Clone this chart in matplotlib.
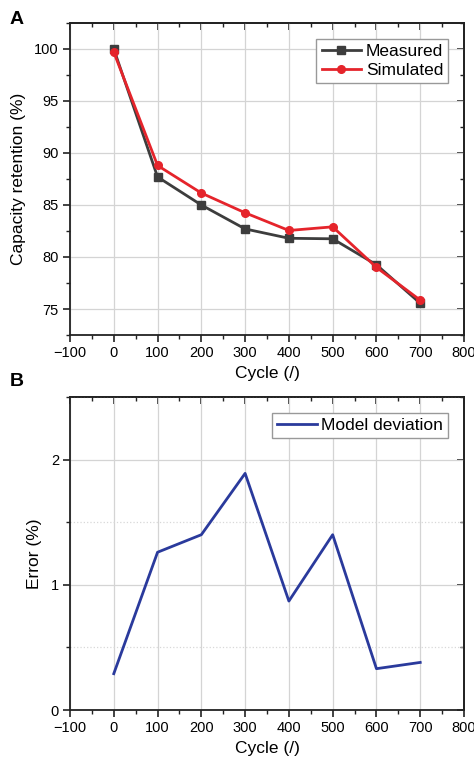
import matplotlib
matplotlib.use("Agg")
import matplotlib.pyplot as plt
from matplotlib.ticker import MultipleLocator

plt.rcParams['font.family'] = ['Liberation Sans', 'DejaVu Sans']

cycles = [0, 100, 200, 300, 400, 500, 600, 700]
measured = [100.0, 87.7, 85.0, 82.7, 81.8, 81.75, 79.25, 75.55]
simulated = [99.7, 88.8, 86.15, 84.25, 82.55, 82.9, 79.0, 75.85]
deviation = [0.29, 1.26, 1.40, 1.89, 0.87, 1.40, 0.33, 0.38]

x_ticks = [-100, 0, 100, 200, 300, 400, 500, 600, 700, 800]
x_ticklabels = ['\u2212100', '0', '100', '200', '300', '400', '500', '600', '700', '800']

W, H = 474, 758
fig = plt.figure(figsize=(W / 100, H / 100), dpi=100)

def box(l, t, r, b):
    return [l / W, 1 - b / H, (r - l) / W, (b - t) / H]

axA = fig.add_axes(box(70, 23, 464, 335))
axB = fig.add_axes(box(70, 397, 464, 710))

def style(ax, ylim, ymajor, yminor, ylabel, minor_grid=False):
    ax.set_xlim(-100, 800)
    ax.set_ylim(*ylim)
    ax.set_xticks(x_ticks)
    ax.set_xticklabels(x_ticklabels)
    ax.xaxis.set_minor_locator(MultipleLocator(50))
    ax.yaxis.set_major_locator(MultipleLocator(ymajor))
    ax.yaxis.set_minor_locator(MultipleLocator(yminor))
    ax.tick_params(which='major', direction='out', length=5, width=1.2,
                   labelsize=10.5, color='#222222', pad=3)
    ax.tick_params(which='minor', direction='out', length=3, width=1.0, color='#222222')
    ax.grid(True, which='major', color='#d4d4d4', linewidth=0.9)
    if minor_grid:
        ax.grid(True, which='minor', axis='y', color='#d8d8d8', linewidth=0.9, linestyle=':')
    for s in ax.spines.values():
        s.set_linewidth(1.3)
        s.set_color('#222222')
    ax.set_axisbelow(True)
    ax.set_xlabel('Cycle (/)', fontsize=12.5, labelpad=4)
    ax.set_ylabel(ylabel, fontsize=12.5, labelpad=6)
    # mirrored inward ticks on top and right
    top = ax.secondary_xaxis('top')
    top.set_xticks(x_ticks)
    top.xaxis.set_minor_locator(MultipleLocator(50))
    top.tick_params(which='major', direction='in', length=5, width=1.2, labeltop=False, color='#222222')
    top.tick_params(which='minor', direction='in', length=3, width=1.0, color='#222222')
    right = ax.secondary_yaxis('right')
    right.yaxis.set_major_locator(MultipleLocator(ymajor))
    right.yaxis.set_minor_locator(MultipleLocator(yminor))
    right.tick_params(which='major', direction='in', length=5, width=1.2, labelright=False, color='#222222')
    right.tick_params(which='minor', direction='in', length=3, width=1.0, color='#222222')
    for sec in (top, right):
        for s in sec.spines.values():
            s.set_linewidth(1.3)
            s.set_color('#222222')

# Panel A: capacity retention
style(axA, (72.5, 102.5), 5, 2.5, 'Capacity retention (%)')
axA.plot(cycles, measured, color='#3d3d3d', marker='s', markersize=5.5,
         linewidth=2.0, label='Measured', zorder=3)
axA.plot(cycles, simulated, color='#e5242b', marker='o', markersize=5.5,
         linewidth=2.0, label='Simulated', zorder=4)
axA.legend(loc='upper right', fontsize=12.5, frameon=True, fancybox=False,
           edgecolor='#999999', framealpha=1, handlelength=2.3, handletextpad=0.25,
           borderpad=0.3, labelspacing=0.2, borderaxespad=0.9)

# Panel B: model deviation
style(axB, (0, 2.5), 1, 0.5, 'Error (%)', minor_grid=True)
axB.plot(cycles, deviation, color='#2a3a9c', linewidth=2.0, label='Model deviation')
axB.legend(loc='upper right', fontsize=12.5, frameon=True, fancybox=False,
           edgecolor='#999999', framealpha=1, handlelength=2.3, handletextpad=0.25,
           borderpad=0.3, borderaxespad=0.9)

fig.text(10 / W, 1 - 20 / H, 'A', fontsize=14, fontweight='bold', va='center', ha='left')
fig.text(10 / W, 1 - 382 / H, 'B', fontsize=14, fontweight='bold', va='center', ha='left')

fig.savefig('out.png', dpi=100)
